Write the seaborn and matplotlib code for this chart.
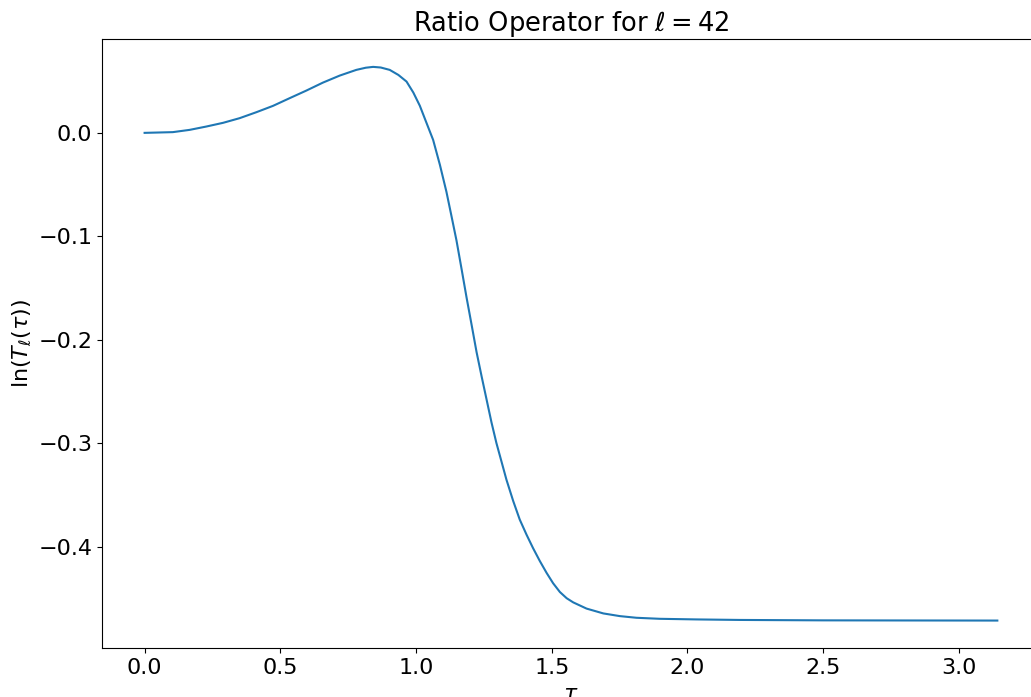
import matplotlib
matplotlib.use("Agg")

import matplotlib.pyplot as plt
import seaborn as sns
import pandas as pd

# values
tau = [0.0, 0.104, 0.166, 0.227, 0.289, 0.350, 0.412, 0.473, 0.534, 0.596,
       0.657, 0.719, 0.780, 0.815, 0.842, 0.870, 0.903, 0.935, 0.965, 0.990,
       1.014, 1.038, 1.063, 1.088, 1.112, 1.131, 1.149, 1.168, 1.186, 1.205,
       1.223, 1.242, 1.260, 1.278, 1.296, 1.315, 1.333, 1.358, 1.382, 1.407,
       1.431, 1.456, 1.481, 1.505, 1.530, 1.555, 1.579, 1.628, 1.690, 1.751,
       1.812, 1.898, 2.034, 2.193, 2.500, 2.800, 3.1416]
ln_t = [0.0, 0.0007, 0.0029, 0.0061, 0.0097, 0.0142, 0.0200, 0.0261, 0.0335, 0.0409,
        0.0486, 0.0554, 0.0609, 0.0630, 0.0638, 0.0632, 0.0609, 0.0560, 0.0496, 0.0390,
        0.0262, 0.0100, -0.0068, -0.0310, -0.0570, -0.0810, -0.1040, -0.1320, -0.1590, -0.1860,
        -0.2120, -0.2360, -0.2580, -0.2800, -0.2998, -0.3180, -0.3353, -0.3560, -0.3739, -0.3885,
        -0.4015, -0.4140, -0.4255, -0.4355, -0.4440, -0.4500, -0.4540, -0.4600, -0.4647, -0.4673,
        -0.4689, -0.4699, -0.4705, -0.4710, -0.4714, -0.4715, -0.4716]

x_ticks = [0.0, 0.5, 1.0, 1.5, 2.0, 2.5, 3.0]
y_ticks = [0.0, -0.1, -0.2, -0.3, -0.4]


def main():
    df = pd.DataFrame({"tau": tau, "ln_t": ln_t})

    fig = plt.figure(figsize=(10.31, 6.97), dpi=100)
    # axes run past the right edge, like the cropped original
    ax = fig.add_axes([0.0989, 0.0699, 0.9098, 0.8742])

    sns.lineplot(x="tau", y="ln_t", data=df, ax=ax, color="#1f77b4",
                 linewidth=1.5, sort=False)

    ax.set_xlim(-0.05 * 3.1416, 1.05 * 3.1416)
    ax.set_ylim(-0.4984, 0.0908)
    ax.set_xticks(x_ticks)
    ax.set_yticks(y_ticks)
    ax.tick_params(labelsize=16)

    ax.set_title(r"Ratio Operator for $\ell = 42$", fontsize=18.5)
    ax.set_xlabel(r"$\tau$", fontsize=16)
    ax.set_ylabel(r"$\ln(T_\ell(\tau))$", fontsize=16)

    fig.savefig("out.png", dpi=100)
    plt.close(fig)


if __name__ == "__main__":
    main()
